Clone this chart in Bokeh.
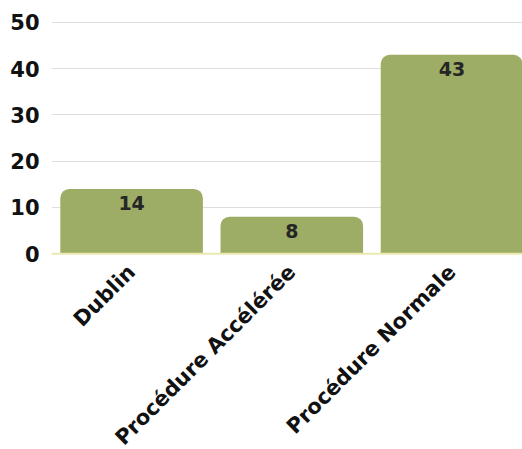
from math import pi
from bokeh.plotting import figure
from bokeh.models import Range1d, FixedTicker, ColumnDataSource, Span
from bokeh.core.properties import value
from bokeh.embed import file_html
from bokeh.resources import INLINE

categories = ["Dublin", "Procédure Accélérée", "Procédure Normale"]
counts = [14, 8, 43]
y_ticks = [0, 10, 20, 30, 40, 50]

FONT = "DejaVu Sans"

xs = list(range(1, len(categories) + 1))
src = ColumnDataSource(dict(x=xs, top=counts, label=[str(c) for c in counts]))

p = figure(
    output_backend="svg", toolbar_location=None,
    frame_width=471, frame_height=241,
    min_border_left=51, min_border_right=0, min_border_top=15, min_border_bottom=193,
    x_range=Range1d(0.5, 3.44), y_range=Range1d(-0.6, 51.5),
    background_fill_color="white", border_fill_color="white",
)
p.outline_line_color = None

p.vbar(x="x", top="top", bottom=0, width=0.89, source=src,
       fill_color="#9dad65", line_color=None, border_radius=(9, 9, 0, 0))

p.add_layout(Span(location=0, dimension="width", line_color="#ebe8b0", line_width=2))

p.text(x="x", y="top", text="label", source=src, y_offset=7,
       text_align="center", text_baseline="top",
       text_font=value(FONT), text_font_style="bold",
       text_font_size="19px", text_color="#262626")

# y axis
p.yaxis.ticker = FixedTicker(ticks=y_ticks)
p.yaxis.axis_line_color = None
p.yaxis.major_tick_line_color = None
p.yaxis.minor_tick_line_color = None
p.yaxis.major_label_standoff = 6
p.yaxis.major_label_text_font = FONT
p.yaxis.major_label_text_font_style = "bold"
p.yaxis.major_label_text_font_size = "21px"
p.yaxis.major_label_text_color = "#111111"

# x axis
p.xaxis.ticker = FixedTicker(ticks=xs)
p.xaxis.major_label_overrides = {x: c for x, c in zip(xs, categories)}
p.xaxis.major_label_orientation = pi / 4
p.xaxis.axis_line_color = None
p.xaxis.major_tick_line_color = None
p.xaxis.minor_tick_line_color = None
p.xaxis.major_label_standoff = 6
p.xaxis.major_label_text_font = FONT
p.xaxis.major_label_text_font_style = "bold"
p.xaxis.major_label_text_font_size = "21px"
p.xaxis.major_label_text_color = "#111111"

p.xgrid.grid_line_color = None
p.ygrid.grid_line_color = "#dedede"
p.ygrid.grid_line_width = 1

open("out.html", "w").write(file_html(p, INLINE))
